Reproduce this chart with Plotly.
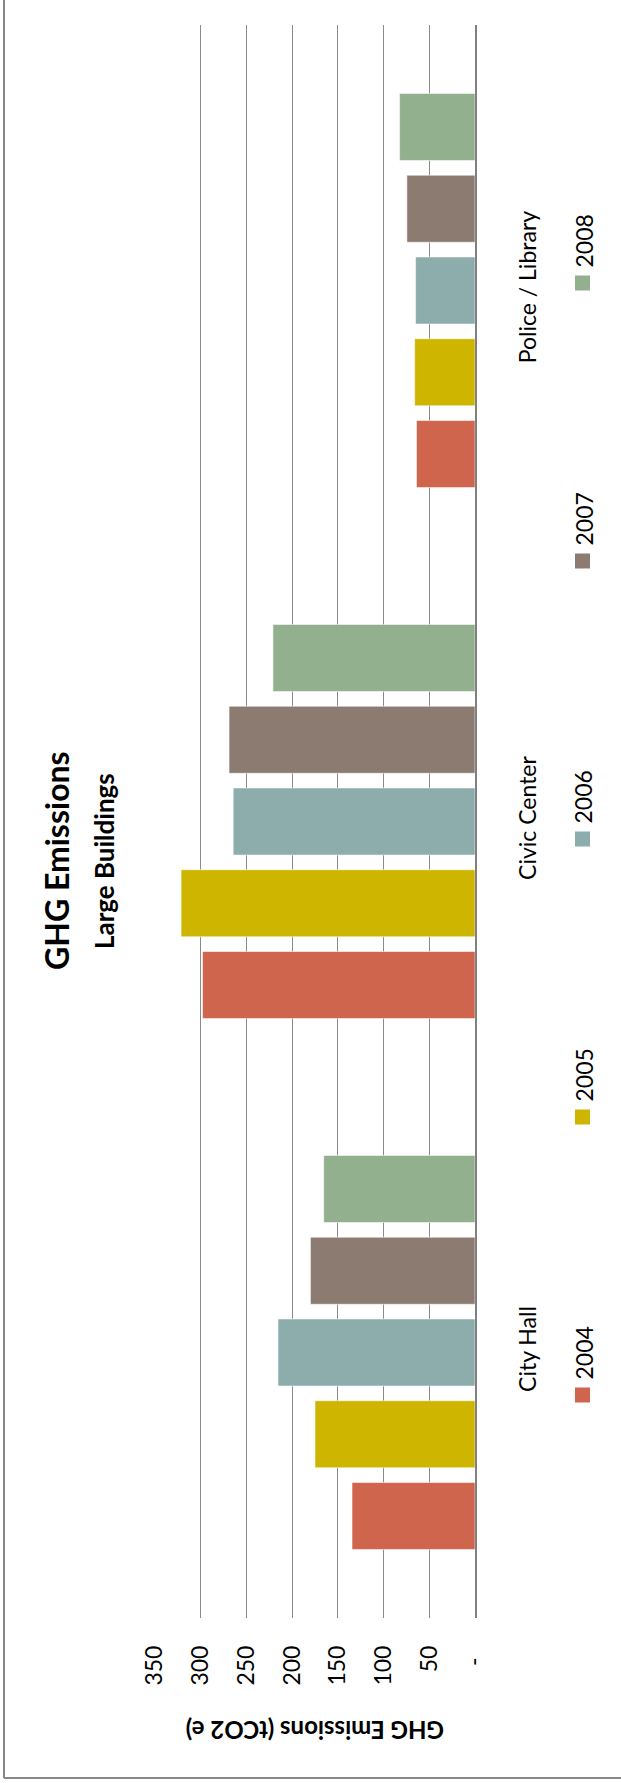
import plotly.graph_objects as go

# Emissions by building and year (tCO2 e)
buildings = ["City Hall", "Civic Center", "Police / Library"]
years = ["2004", "2005", "2006", "2007", "2008"]
emissions_2004 = [134.5, 298, 64]
emissions_2005 = [175, 321.5, 66]
emissions_2006 = [215.5, 264.5, 65]
emissions_2007 = [180, 269, 74.5]
emissions_2008 = [165.5, 221, 82.5]
year_colors = ["#D0654D", "#CDB500", "#8DADAD", "#8C7B70", "#92B08E"]
value_ticks = [0, 50, 100, 150, 200, 250, 300, 350]
value_tick_text = ["-\u00a0\u00a0", "50", "100", "150", "200", "250", "300", "350"]

series = [emissions_2004, emissions_2005, emissions_2006, emissions_2007, emissions_2008]

W, H = 621, 1783
ML, MR, MT, MB = 155, 146, 25, 165
PW, PH = W - ML - MR, H - MT - MB
FONT = "Lato"
GRID = "#8a8a8a"
TXT = 23


def px(x):
    return (x - ML) / PW


def py(y):
    return (H - MB - y) / PH


fig = go.Figure()
for name, vals, col in zip(years, series, year_colors):
    fig.add_trace(go.Bar(
        name=name, y=buildings, x=vals, orientation="h",
        marker=dict(color=col, line=dict(color="rgba(255,255,255,0.55)", width=1)),
    ))

annotations = [
    dict(text="<b>GHG Emissions</b>", x=px(57), y=py(861), textangle=-90,
         font=dict(family=FONT, size=32, color="black")),
    dict(text="<b>Large Buildings</b>", x=px(104), y=py(861), textangle=-90,
         font=dict(family=FONT, size=26, color="black")),
    dict(text="<b>GHG Emissions (tCO2 e)</b>", x=px(315), y=py(1731), textangle=180,
         font=dict(family=FONT, size=24, color="black")),
]
shapes = []

# rotated legend: square below, label reading upward above it
legend_y = [1395, 1117, 839, 561, 283]
for name, col, ly in zip(years, year_colors, legend_y):
    shapes.append(dict(type="rect", xref="paper", yref="paper",
                       x0=px(575), x1=px(590), y0=py(ly + 7.5), y1=py(ly - 7.5),
                       fillcolor=col, line=dict(width=0)))
    annotations.append(dict(text=name, x=px(583), y=py(ly - 13), textangle=-90,
                            xanchor="center", yanchor="bottom",
                            font=dict(family=FONT, size=TXT, color="black")))

# outer frame (left and bottom edges)
shapes.append(dict(type="line", xref="paper", yref="paper",
                   x0=px(4), x1=px(4), y0=py(-5), y1=py(1778),
                   line=dict(color="#888888", width=2)))
shapes.append(dict(type="line", xref="paper", yref="paper",
                   x0=px(4), x1=px(630), y0=py(1778), y1=py(1778),
                   line=dict(color="#888888", width=2)))

for a in annotations:
    a.update(xref="paper", yref="paper", showarrow=False)
    a.setdefault("xanchor", "center")
    a.setdefault("yanchor", "middle")

fig.update_layout(
    width=W, height=H, autosize=False,
    margin=dict(l=ML, r=MR, t=MT, b=MB),
    paper_bgcolor="white", plot_bgcolor="white",
    barmode="group", bargap=0.23, bargroupgap=0.18,
    showlegend=False,
    annotations=annotations, shapes=shapes,
    font=dict(family=FONT, size=TXT, color="black"),
    xaxis=dict(range=[350, 0], tickmode="array", tickvals=value_ticks, ticktext=value_tick_text,
               tickangle=-90, showgrid=True, gridcolor=GRID, gridwidth=1.4,
               zeroline=False, showline=False, ticks="", ticklabelstandoff=22,
               tickfont=dict(family=FONT, size=TXT, color="black")),
    yaxis=dict(side="right", tickangle=-90, showgrid=False, showline=True,
               linecolor="#808080", linewidth=2, ticks="", ticklabelstandoff=31,
               categoryorder="array", categoryarray=buildings,
               tickfont=dict(family=FONT, size=TXT, color="black")),
)

fig.write_html("out.html")
